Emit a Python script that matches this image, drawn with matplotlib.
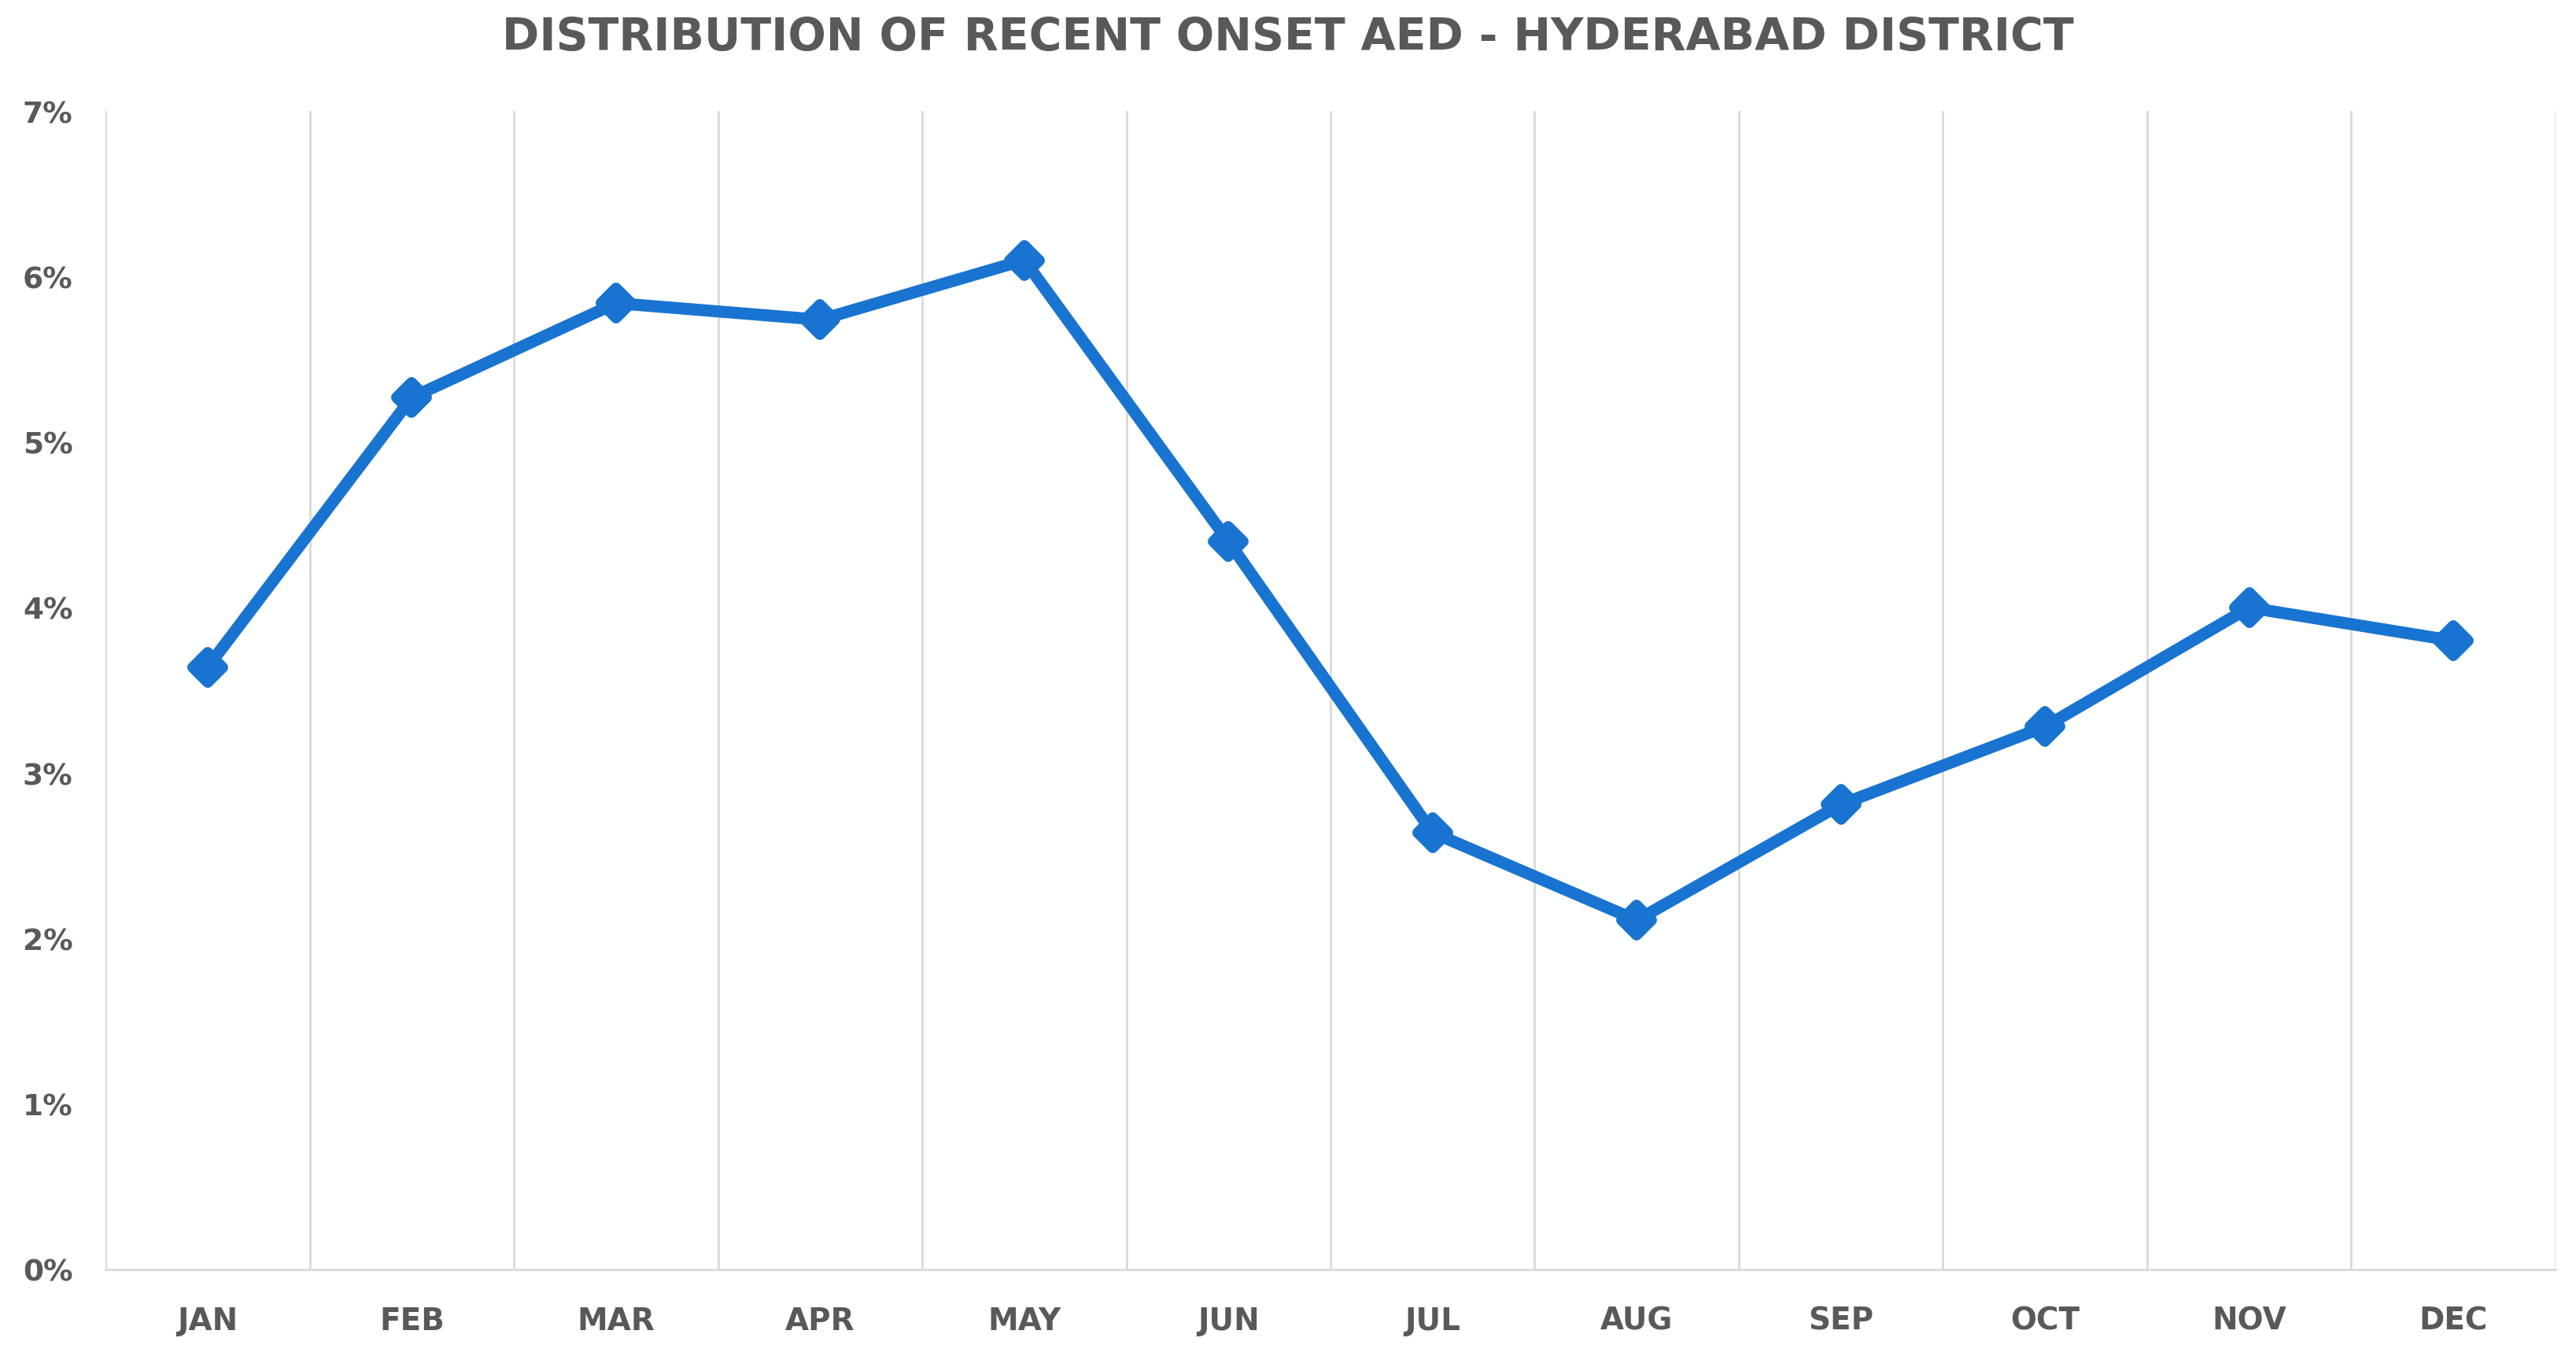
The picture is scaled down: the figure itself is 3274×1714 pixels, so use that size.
import numpy as np
import matplotlib.pyplot as plt
from matplotlib.markers import MarkerStyle
from matplotlib.ticker import PercentFormatter, FixedLocator

months = ['JAN', 'FEB', 'MAR', 'APR', 'MAY', 'JUN', 'JUL', 'AUG', 'SEP', 'OCT', 'NOV', 'DEC']
share = [3.64, 5.27, 5.84, 5.74, 6.10, 4.40, 2.64, 2.11, 2.81, 3.28, 4.00, 3.80]

plt.rcParams['font.family'] = ['DejaVu Sans']
txt = '#595959'
blue = '#1874D0'

fig = plt.figure(figsize=(32.74, 17.15), dpi=100)
ax = fig.add_axes([0.041, 0.059, 0.951, 0.858])

x = np.arange(len(months))
ax.plot(x, share, color=blue, lw=11, solid_joinstyle='round', solid_capstyle='round')
ax.plot(x, share, ls='none', marker=MarkerStyle('D', joinstyle='round'), ms=19,
        mew=10, mec=blue, mfc=blue)

ax.set_xlim(-0.5, len(months) - 0.5)
ax.set_ylim(0, 7)
ax.set_yticks(np.arange(0, 8, 1))
ax.yaxis.set_major_formatter(PercentFormatter(decimals=0))
ax.set_xticks(x)
ax.set_xticklabels(months)
ax.xaxis.set_minor_locator(FixedLocator(np.arange(-0.5, len(months), 1)))
ax.grid(which='minor', axis='x', color='#d9d9d9', lw=2)
ax.tick_params(which='both', length=0)
ax.tick_params(axis='x', pad=33, labelsize=28, labelcolor=txt)
ax.tick_params(axis='y', pad=30, labelsize=27, labelcolor=txt)
for lab in ax.get_xticklabels() + ax.get_yticklabels():
    lab.set_fontweight('bold')

for s in ['top', 'right', 'left']:
    ax.spines[s].set_visible(False)
ax.spines['bottom'].set_color('#d9d9d9')
ax.spines['bottom'].set_linewidth(2)

fig.text(0.5, 0.972, 'DISTRIBUTION OF RECENT ONSET AED - HYDERABAD DISTRICT',
         ha='center', va='center', fontsize=41, fontweight='bold', color=txt)

fig.savefig('out.png', dpi=100, facecolor='white')
